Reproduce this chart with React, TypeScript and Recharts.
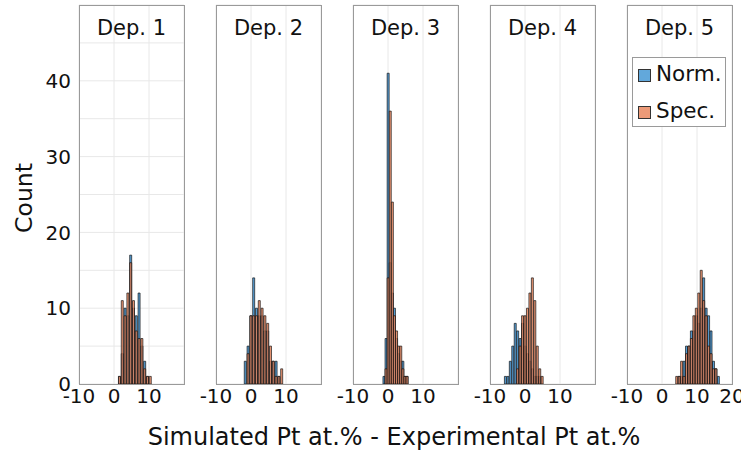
import { ComposedChart, Bar, XAxis, YAxis, CartesianGrid } from 'recharts';

// histogram bins per deposit: first bin centre, bin width, counts
const panelTitles = ['Dep. 1', 'Dep. 2', 'Dep. 3', 'Dep. 4', 'Dep. 5'];
const binStarts = [1.6, -1.6, -1.2, -5.6, 4.2];
const binWidths = [0.8, 0.8, 0.6, 0.7, 0.7];

const normCounts = [
  [1, 4, 10, 9, 17, 10, 9, 12, 5, 3, 1, 0],
  [3, 5, 9, 14, 10, 9, 9, 7, 7, 3, 3, 3, 1, 0],
  [1, 6, 41, 16, 12, 10, 6, 4, 3, 3, 1, 1],
  [1, 1, 3, 5, 8, 7, 6, 8, 5, 4, 3, 2, 1, 1, 1, 0, 0],
  [0, 1, 1, 3, 5, 5, 7, 7, 9, 8, 10, 14, 10, 9, 7, 3, 2, 1],
];
const specCounts = [
  [1, 11, 9, 12, 16, 11, 7, 6, 6, 2, 1, 1],
  [0, 4, 9, 9, 9, 11, 10, 9, 8, 5, 3, 1, 1, 2],
  [0, 2, 14, 36, 24, 9, 7, 5, 5, 2, 1, 1],
  [0, 0, 0, 0, 0, 2, 5, 9, 9, 10, 12, 14, 11, 5, 2, 1, 0],
  [1, 1, 3, 1, 4, 5, 6, 9, 10, 12, 15, 11, 9, 5, 4, 2, 2, 0],
];

const xTicks = [-10, 0, 10];
const xTicksLast = [-10, 0, 10, 20];
const yTicks = [0, 5, 10, 15, 20, 25, 30, 35, 40, 45, 50];

const BLUE = '#4593d0';
const ORANGE = '#e5825a';
const FONT = '"DejaVu Sans", Verdana, sans-serif';

const PLOT_LEFT = 79;
const STEP = 137;
const PLOT_W = 105;
const PLOT_TOP = 5;
const PLOT_BOTTOM = 384;
const AXIS_W = 45;

function Panel({ index }: { index: number }) {
  const start = binStarts[index];
  const w = binWidths[index];
  const rows = normCounts[index].map((n, i) => ({
    x: +(start + i * w).toFixed(2),
    norm: n > 0 ? n : null,
    spec: specCounts[index][i] > 0 ? specCounts[index][i] : null,
  }));
  const last = index === panelTitles.length - 1;
  const left = PLOT_LEFT + STEP * index;

  return (
    <>
      <div style={{ position: 'absolute', left: left - AXIS_W, top: 0 }}>
        <ComposedChart
          width={AXIS_W + PLOT_W + 25}
          height={455}
          data={rows}
          margin={{ top: PLOT_TOP, right: 25, left: 0, bottom: 455 - PLOT_BOTTOM - 30 }}
        >
          <CartesianGrid xAxisId="n" stroke="#e8e8e8" />
          <XAxis
            xAxisId="n"
            type="number"
            dataKey="x"
            domain={[-10, 20]}
            ticks={last ? xTicksLast : xTicks}
            interval={0}
            allowDataOverflow
            axisLine={false}
            tickLine={false}
            tickSize={0}
            tickMargin={5}
            height={30}
            tick={{ fontSize: 20, fill: '#111', fontFamily: FONT }}
          />
          <XAxis xAxisId="s" type="number" dataKey="x" domain={[-10, 20]} allowDataOverflow hide />
          <YAxis
            domain={[0, 50]}
            ticks={yTicks}
            interval={0}
            width={AXIS_W}
            axisLine={false}
            tickLine={false}
            tickFormatter={(v: number) => (v % 10 === 0 && v < 50 ? String(v) : '')}
            tick={index === 0 ? { fontSize: 20, fill: '#111', fontFamily: FONT } : false}
          />
          <Bar
            xAxisId="n"
            dataKey="norm"
            barCategoryGap={0}
            fill={BLUE}
            fillOpacity={0.9}
            stroke="#111"
            strokeWidth={0.8}
            strokeOpacity={0.85}
            isAnimationActive={false}
          />
          <Bar
            xAxisId="s"
            dataKey="spec"
            barCategoryGap={0}
            fill={ORANGE}
            fillOpacity={0.85}
            stroke="#111"
            strokeWidth={0.8}
            strokeOpacity={0.85}
            isAnimationActive={false}
          />
        </ComposedChart>
      </div>
      <div
        style={{
          position: 'absolute',
          left,
          top: PLOT_TOP,
          width: PLOT_W + 1,
          height: PLOT_BOTTOM - PLOT_TOP + 1,
          border: '1px solid #9a9a9a',
          boxSizing: 'border-box',
          pointerEvents: 'none',
        }}
      />
      <div
        style={{
          position: 'absolute',
          left,
          top: 16,
          width: PLOT_W,
          textAlign: 'center',
          fontSize: 21,
          lineHeight: '25px',
          color: '#111',
        }}
      >
        {panelTitles[index]}
      </div>
    </>
  );
}

export default function App() {
  return (
    <div
      style={{
        position: 'absolute',
        left: 0,
        top: 0,
        width: 741,
        height: 455,
        overflow: 'hidden',
        background: '#fff',
        fontFamily: FONT,
      }}
    >
      {panelTitles.map((_, i) => (
        <Panel key={i} index={i} />
      ))}

      <div
        style={{
          position: 'absolute',
          left: 632,
          top: 57,
          width: 94,
          height: 70,
          border: '1px solid #9a9a9a',
          boxSizing: 'border-box',
          background: '#fff',
          fontSize: 21.5,
          color: '#111',
        }}
      >
        {[
          { name: 'Norm.', color: '#62a8db' },
          { name: 'Spec.', color: '#ec9a78' },
        ].map((item, i) => (
          <div
            key={item.name}
            style={{ position: 'absolute', left: 5, top: 3 + i * 37, height: 26, lineHeight: '26px', whiteSpace: 'nowrap' }}
          >
            <span
              style={{
                display: 'inline-block',
                width: 11,
                height: 11,
                background: item.color,
                border: '1px solid #333',
                marginRight: 5,
                verticalAlign: -1,
              }}
            />
            {item.name}
          </div>
        ))}
      </div>

      <div
        style={{
          position: 'absolute',
          left: 24 - 60,
          top: 198 - 15,
          width: 120,
          height: 30,
          lineHeight: '30px',
          textAlign: 'center',
          fontSize: 23.5,
          color: '#111',
          transform: 'rotate(-90deg)',
        }}
      >
        Count
      </div>

      <div
        style={{
          position: 'absolute',
          left: 394 - 300,
          top: 423,
          width: 600,
          textAlign: 'center',
          fontSize: 24,
          lineHeight: '28px',
          color: '#111',
        }}
      >
        Simulated Pt at.% - Experimental Pt at.%
      </div>
    </div>
  );
}
